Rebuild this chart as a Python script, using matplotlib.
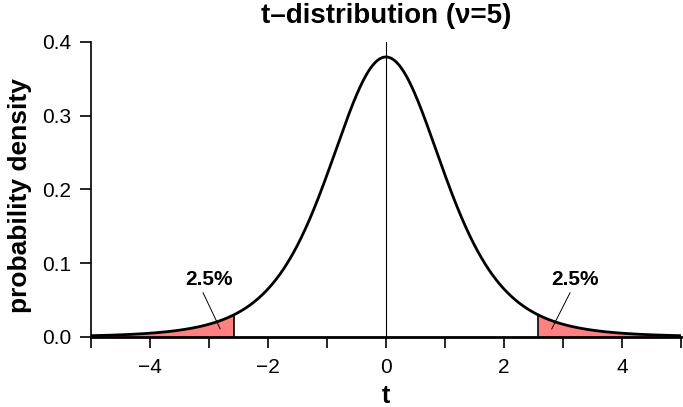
import math

import matplotlib
matplotlib.use("Agg")
import matplotlib.pyplot as plt
import numpy as np

plt.rcParams["font.family"] = ["Liberation Sans", "DejaVu Sans"]

# chart values
NU = 5
T_CRIT = 2.571          # two-sided 5% critical value for nu=5
X_RANGE = (-5, 5)
Y_TICKS = [0.0, 0.1, 0.2, 0.3, 0.4]
X_MAJOR = [-4, -2, 0, 2, 4]
X_MINOR = [-5, -3, -1, 1, 3, 5]
TAIL_LABEL = "2.5%"
LABEL_POS = [(-3.0, 0.078), (3.2, 0.078)]
ARROW_TIP = [(-2.81, 0.011), (2.81, 0.011)]
ARROW_START = [(-3.1, 0.060), (3.12, 0.060)]


def t_pdf(x, nu):
    c = math.gamma((nu + 1) / 2) / (math.sqrt(nu * math.pi) * math.gamma(nu / 2))
    return c * (1 + x ** 2 / nu) ** (-(nu + 1) / 2)


x = np.linspace(X_RANGE[0], X_RANGE[1], 1001)
y = t_pdf(x, NU)

fig = plt.figure(figsize=(6.83, 4.07), dpi=100)
ax = fig.add_axes([0.1332, 0.172, 0.8638, 0.725])

left = x <= -T_CRIT
right = x >= T_CRIT
ax.fill_between(x[left], 0, y[left], color="#ff8080", lw=0)
ax.fill_between(x[right], 0, y[right], color="#ff8080", lw=0)
ax.vlines([-T_CRIT, T_CRIT], 0, t_pdf(T_CRIT, NU), color="black", lw=1.2)
ax.plot(x, y, color="black", lw=2)
ax.axvline(0, ymin=0, ymax=1, color="black", lw=0.8)

for (lx, ly), (sx, sy), (tx, ty) in zip(LABEL_POS, ARROW_START, ARROW_TIP):
    ax.text(lx, ly, TAIL_LABEL, ha="center", va="center", fontsize=15, fontweight="bold")
    ax.plot([sx, tx], [sy, ty], color="black", lw=0.7)

ax.set_xlim(*X_RANGE)
ax.set_ylim(0, 0.4)
ax.set_xticks(X_MAJOR)
ax.set_xticklabels(["\u22124", "\u22122", "0", "2", "4"])
ax.set_xticks(X_MINOR, minor=True)
ax.set_yticks(Y_TICKS)
ax.set_yticklabels([f"{v:.1f}" for v in Y_TICKS])
ax.tick_params(axis="both", which="both", direction="out", width=1.2, labelsize=15)
ax.tick_params(axis="x", which="major", length=8, pad=7)
ax.tick_params(axis="x", which="minor", length=8)
ax.tick_params(axis="y", length=8, pad=6)

for side in ("top", "right"):
    ax.spines[side].set_visible(False)
ax.spines["left"].set_linewidth(1.2)
ax.spines["bottom"].set_linewidth(2)

ax.set_xlabel("t", fontsize=18, fontweight="bold")
ax.xaxis.set_label_coords(0.5, -0.16)
ax.set_ylabel("probability density", fontsize=19, fontweight="bold")
ax.yaxis.set_label_coords(-0.100, 0.48)
fig.text(386 / 683, 1 - 16 / 407, "t\u2013distribution (\u03bd=5)",
         ha="center", va="center", fontsize=20, fontweight="bold")

fig.savefig("out.png", dpi=100)
